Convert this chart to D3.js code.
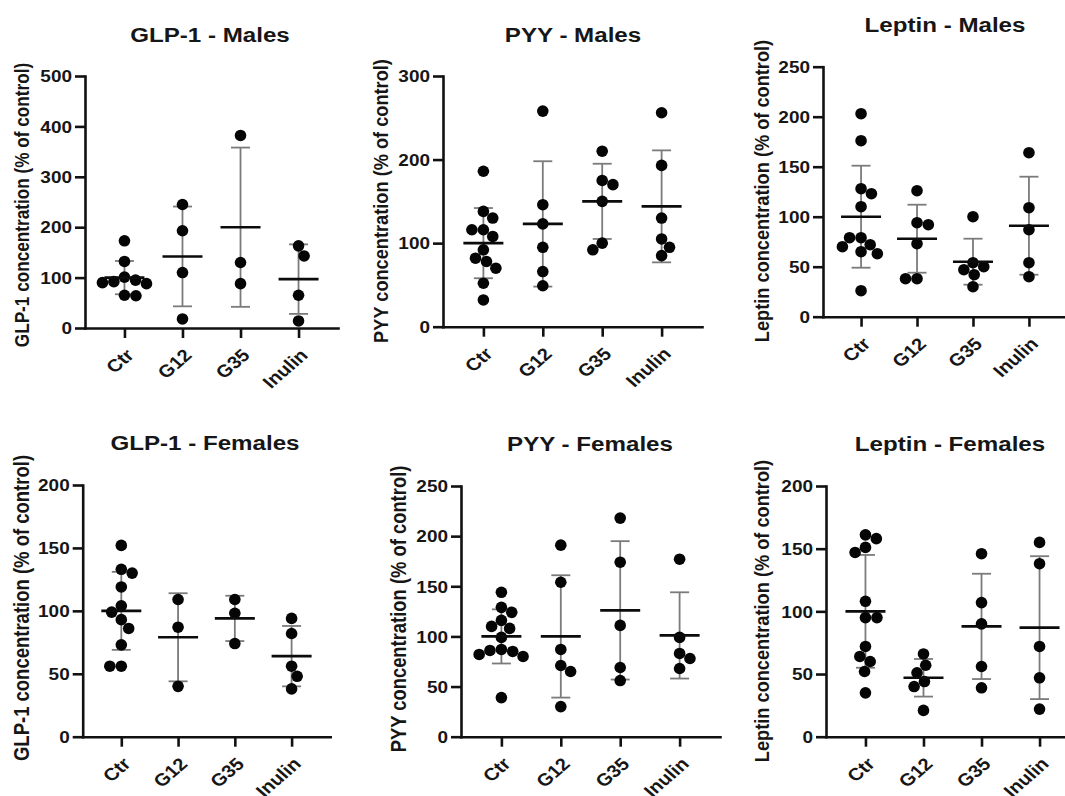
<!DOCTYPE html>
<html><head><meta charset="utf-8">
<script src="https://cdn.jsdelivr.net/npm/d3@7"></script>
<style>
body{margin:0;background:#fff;}
svg text{font-family:"Liberation Sans",Arial,sans-serif;font-weight:bold;fill:#161616;}
</style>
</head><body>
<svg id="chart" width="1065" height="796"></svg>
<script>
// ---------- data ----------
const categories = ["Ctr", "G12", "G35", "Inulin"];
const titles = ["GLP-1 - Males", "PYY - Males", "Leptin - Males",
                "GLP-1 - Females", "PYY - Females", "Leptin - Females"];
const yLabels = ["GLP-1 concentration (% of control)", "PYY concentration (% of control)",
                 "Leptin concentration (% of control)", "GLP-1 concentration (% of control)",
                 "PYY concentration (% of control)", "Leptin concentration (% of control)"];
const yMax = [500, 300, 250, 200, 250, 200];
const yTicks = [[0,100,200,300,400,500],[0,100,200,300],[0,50,100,150,200,250],
                [0,50,100,150,200],[0,50,100,150,200,250],[0,50,100,150,200]];

// individual values per group (Ctr, G12, G35, Inulin)
const glp1Males   = [[173,132,101,95,92,90,88,65,64],[245,193,110,18],[382,130,88],[163,143,65,14]];
const pyyMales    = [[186,138,130,116,116,108,92,82,78,70,52,32],[258,146,123,95,66,49],[210,175,170,150,100,92],[256,193,130,105,95,85]];
const leptinMales = [[203,176,128,123,110,79,79,72,70,65,63,26],[126,94,92,73,38,38],[100,54,50,47,42,30],[164,109,87,54,40]];
const glp1Females   = [[152,133,130,119,104,99,93,86,73,56,56],[109,87,40],[109,98,74],[94,82,56,48,38]];
const pyyFemales    = [[144,129,124,116,110,108,99,87,86,85,82,80,39],[191,154,87,71,65,30],[218,174,111,69,56],[177,99,83,78,68]];
const leptinFemales = [[161,158,151,147,108,95,95,72,64,60,52,35],[66,57,51,44,40,21],[146,107,90,56,39],[155,138,72,47,22]];

// group means and SD as drawn
const glp1MalesMean = [100,142,200,97],   glp1MalesSD = [33,99,158,69];
const pyyMalesMean = [100,123,150,144],   pyyMalesSD = [42,75,45,67];
const leptinMalesMean = [100,78,55,91],   leptinMalesSD = [51,34,23,49];
const glp1FemalesMean = [100,79,94,64],   glp1FemalesSD = [31,35,18,24];
const pyyFemalesMean = [100,100,126,101], pyyFemalesSD = [27,61,69,43];
const leptinFemalesMean = [100,47,88,87], leptinFemalesSD = [45,15,42,57];

const seriesValues = [glp1Males, pyyMales, leptinMales, glp1Females, pyyFemales, leptinFemales];
const seriesMeans = [glp1MalesMean, pyyMalesMean, leptinMalesMean, glp1FemalesMean, pyyFemalesMean, leptinFemalesMean];
const seriesSD = [glp1MalesSD, pyyMalesSD, leptinMalesSD, glp1FemalesSD, pyyFemalesSD, leptinFemalesSD];

// ---------- layout ----------
const layout = [
  {x0:85,   w:253, yTop:76,   yBot:328,   tX:210, tY:41.5, lX:29,  lY:205, lFs:17.2},
  {x0:443,  w:259, yTop:76,   yBot:326.7, tX:573, tY:41.5, lX:388, lY:201, lFs:18.2},
  {x0:823,  w:244, yTop:66.7, yBot:316.7, tX:945, tY:31.5, lX:769, lY:191, lFs:18.2},
  {x0:82.7, w:247.5,yTop:485, yBot:736.7, tX:205, tY:450,  lX:29,  lY:608, lFs:18.5},
  {x0:461,  w:259, yTop:486,  yBot:736.7, tX:590, tY:451,  lX:406, lY:609, lFs:18.4},
  {x0:826,  w:253, yTop:486,  yBot:736.7, tX:950, tY:451,  lX:769, lY:611, lFs:18.2}
];
const SX = 1.15;       // horizontal stretch of the reference text
const R = 5.8;         // dot radius
const MIN_D = 11.5;    // min distance between dot centres in swarm

function swarm(vals, y){
  const order = d3.range(vals.length).sort((a,b)=>d3.descending(vals[a],vals[b]));
  const placed = [], off = [];
  let flip = 1;
  order.forEach(i=>{
    const yy = y(vals[i]);
    const near = placed.filter(p=>Math.abs(p.y-yy) < MIN_D);
    const cands = [0];
    near.forEach(p=>{
      const d = Math.sqrt(MIN_D*MIN_D - (p.y-yy)*(p.y-yy));
      cands.push(p.x+d, p.x-d);
    });
    const valid = cands.filter(c=>near.every(p=>Math.hypot(p.x-c,p.y-yy) >= MIN_D-1e-6));
    valid.sort((a,b)=> (Math.abs(a)-Math.abs(b)) || flip*(b-a));
    const c = valid[0];
    if (Math.abs(c) > 1e-6) flip = -flip;
    off[i] = c;
    placed.push({x:c, y:yy});
  });
  return off;
}

const svg = d3.select("#chart");

layout.forEach((L, k)=>{
  const g = svg.append("g");
  const x = d3.scalePoint().domain(categories).range([L.x0, L.x0+L.w]).padding(0.68);
  const y = d3.scaleLinear().domain([0, yMax[k]]).range([L.yBot, L.yTop]);

  // title
  g.append("text").attr("text-anchor","middle")
    .attr("transform",`translate(${L.tX},${L.tY}) scale(${SX},1)`)
    .style("font-size","21px").text(titles[k]);

  // y label
  g.append("text").attr("text-anchor","middle")
    .attr("transform",`translate(${L.lX},${L.lY}) scale(${SX},1) rotate(-90)`)
    .style("font-size",L.lFs+"px").text(yLabels[k]);

  // error bars (gray)
  const eb = g.append("g").attr("stroke","#7b7b7b").attr("stroke-width",1.8).attr("fill","none");
  categories.forEach((c,i)=>{
    const cx = x(c), m = seriesMeans[k][i], s = seriesSD[k][i];
    eb.append("line").attr("x1",cx).attr("x2",cx).attr("y1",y(m+s)).attr("y2",y(m-s));
    eb.append("line").attr("x1",cx-9.5).attr("x2",cx+9.5).attr("y1",y(m+s)).attr("y2",y(m+s));
    eb.append("line").attr("x1",cx-9.5).attr("x2",cx+9.5).attr("y1",y(m-s)).attr("y2",y(m-s));
  });

  // dots
  categories.forEach((c,i)=>{
    const vals = seriesValues[k][i];
    const off = swarm(vals, y);
    g.append("g").selectAll("circle").data(vals).join("circle")
      .attr("cx",(d,j)=>x(c)+off[j]).attr("cy",d=>y(d)).attr("r",R).attr("fill","#050505");
  });

  // mean lines
  categories.forEach((c,i)=>{
    const cx = x(c), m = seriesMeans[k][i];
    g.append("line").attr("x1",cx-20).attr("x2",cx+20).attr("y1",y(m)).attr("y2",y(m))
      .attr("stroke","#0b0b0b").attr("stroke-width",2.6);
  });

  // axes
  const ya = g.append("g").attr("transform",`translate(${L.x0},0)`)
    .call(d3.axisLeft(y).tickValues(yTicks[k]).tickSize(10).tickSizeOuter(0).tickPadding(3));
  ya.selectAll("text").style("font-size","16.5px").attr("x",0).attr("dy","0.35em")
    .attr("transform",`translate(-13,0) scale(${SX},1)`).attr("fill","#161616");

  const xa = g.append("g").attr("transform",`translate(0,${L.yBot})`)
    .call(d3.axisBottom(x).tickSize(10).tickSizeOuter(0));
  xa.selectAll("text").style("font-size","17.5px").attr("text-anchor","end")
    .attr("x",0).attr("y",0).attr("dy","0.35em")
    .attr("transform",`translate(5,24) scale(${SX},1) rotate(-45)`).attr("fill","#161616");

  [ya, xa].forEach(a=>{
    a.select(".domain").attr("stroke","#111").attr("stroke-width",2.6).attr("stroke-linecap","square");
    a.selectAll(".tick line").attr("stroke","#111").attr("stroke-width",2.6);
  });
});
</script>
</body></html>
